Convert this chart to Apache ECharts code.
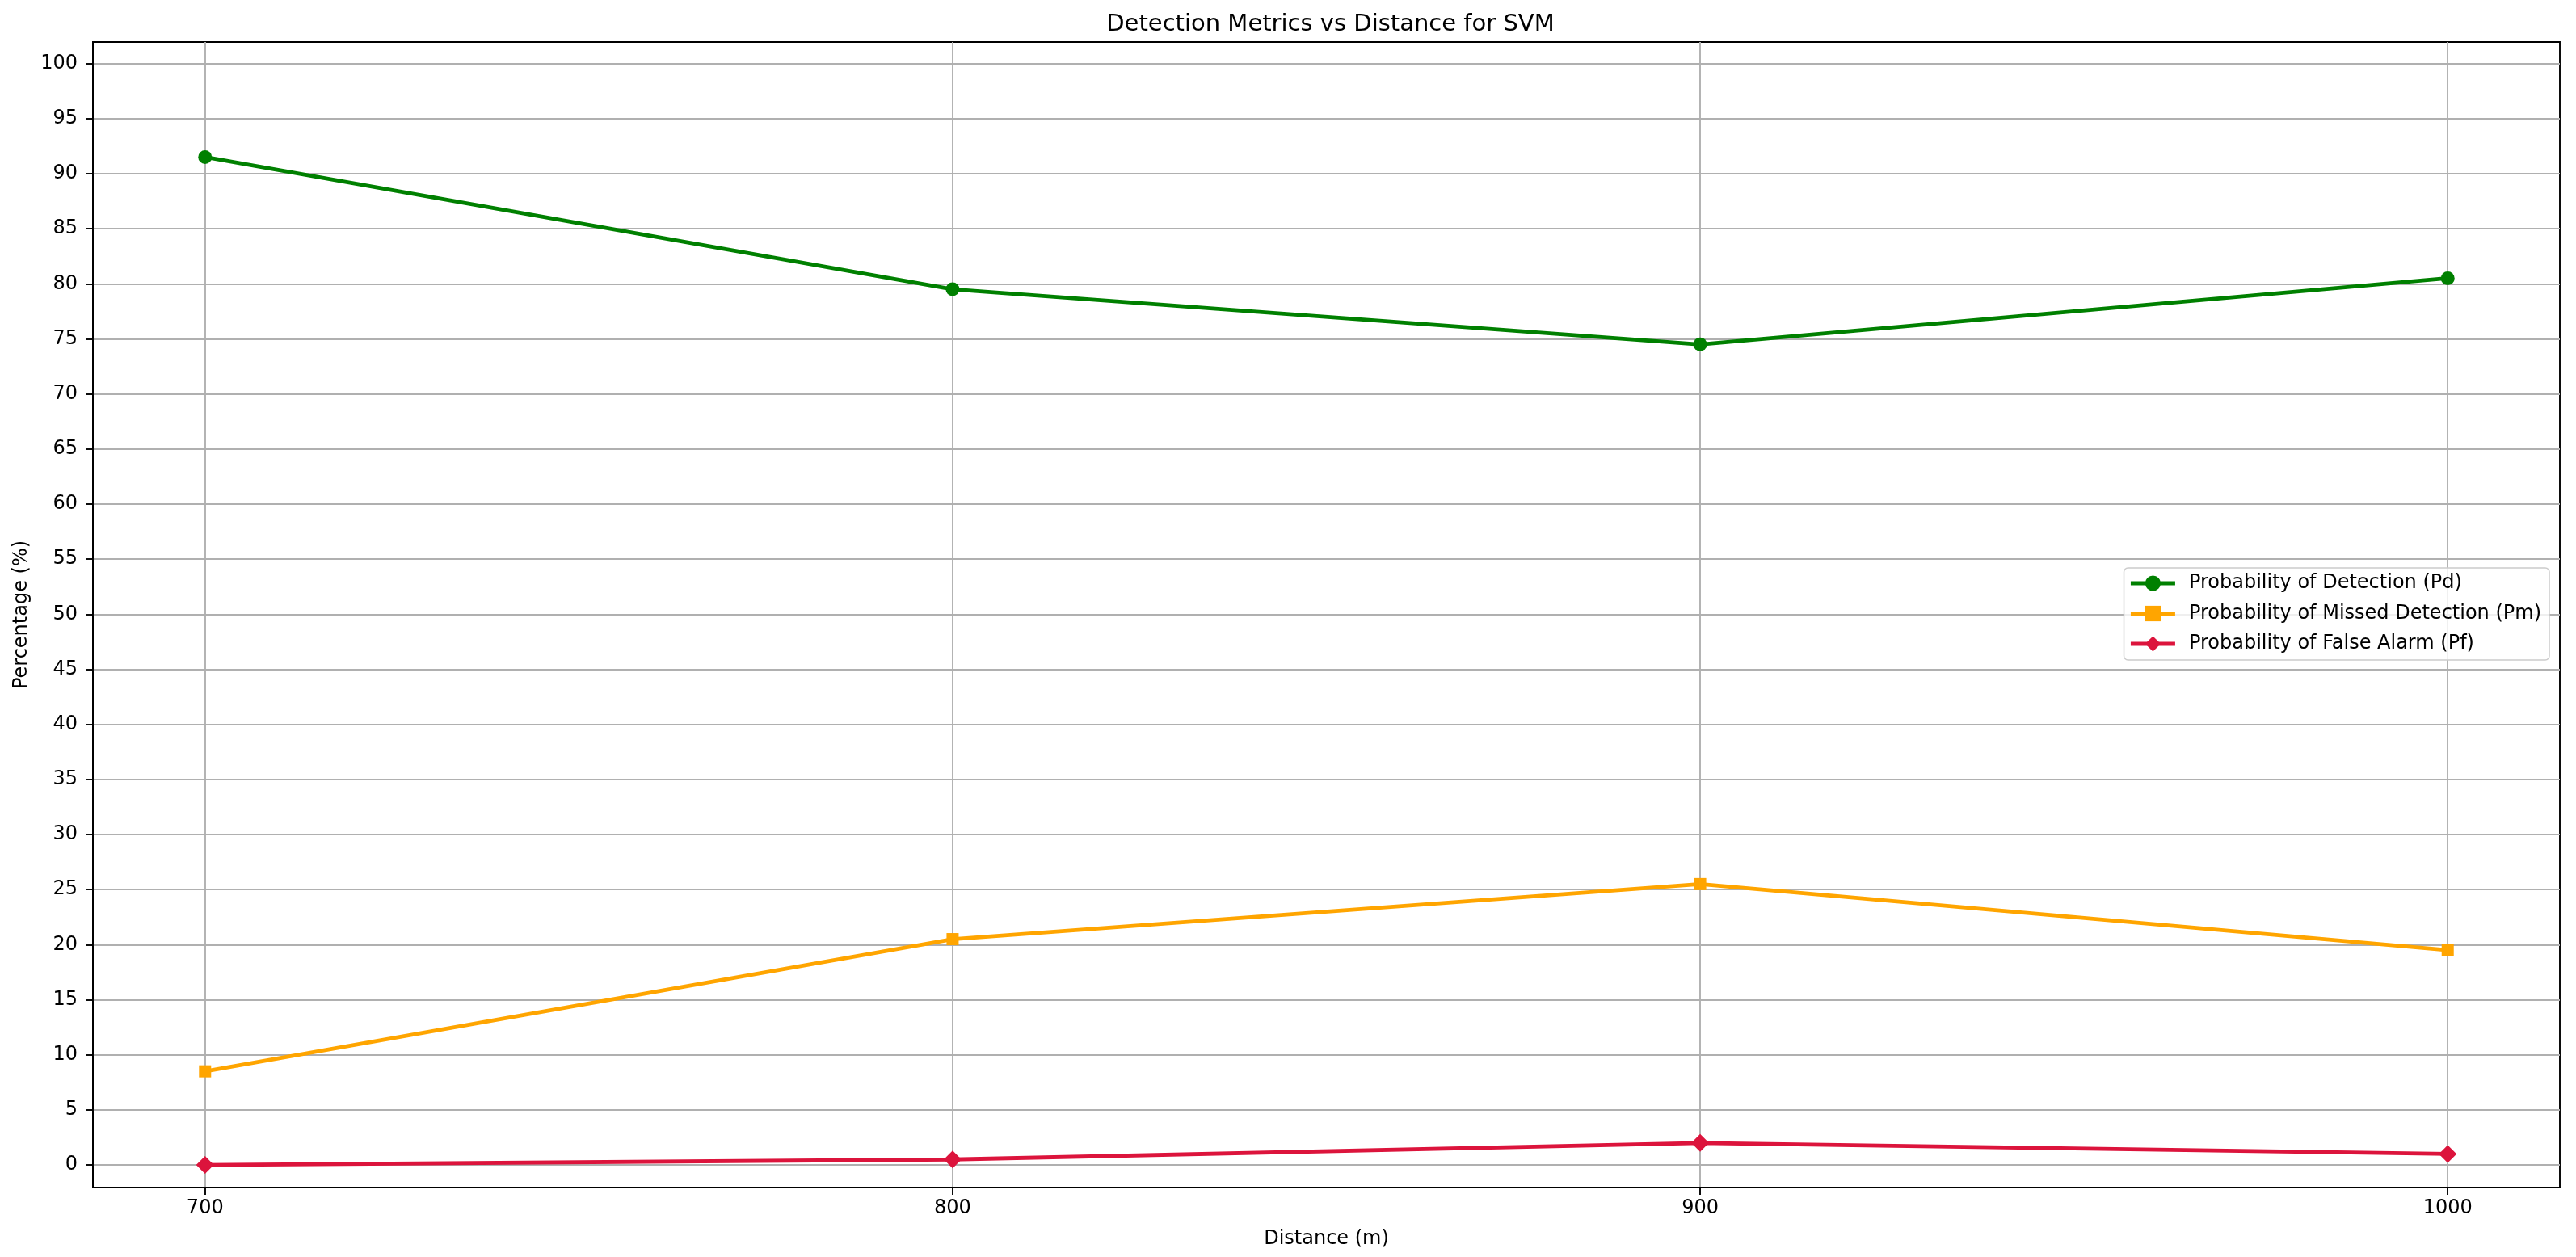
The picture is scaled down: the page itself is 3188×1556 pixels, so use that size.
<!DOCTYPE html>
<html>
<head>
<meta charset="utf-8">
<script src="https://cdn.jsdelivr.net/npm/echarts@6/dist/echarts.min.js"></script>
<style>
html,body{margin:0;padding:0;background:#fff;}
#chart{width:3188px;height:1556px;}
</style>
</head>
<body>
<div id="chart"></div>
<script>
// ---- data ----
const distances = [700, 800, 900, 1000];
const xTicks = [700, 800, 900, 1000];
const yTicks = [0, 5, 10, 15, 20, 25, 30, 35, 40, 45, 50, 55, 60, 65, 70, 75, 80, 85, 90, 95, 100];
const pdValues = [91.5, 79.5, 74.5, 80.5];
const pmValues = [8.5, 20.5, 25.5, 19.5];
const pfValues = [0, 0.5, 2, 1];
const seriesNames = ['Probability of Detection (Pd)', 'Probability of Missed Detection (Pm)', 'Probability of False Alarm (Pf)'];

const FONT = 'DejaVu Sans';
const pair = (xs, ys) => xs.map((x, i) => [x, ys[i]]);

const chart = echarts.init(document.getElementById('chart'), null, {renderer: 'canvas'});

function mkSeries(name, data, color, symbol, size) {
  return {
    name: name,
    type: 'line',
    data: data,
    symbol: symbol,
    symbolSize: size,
    showSymbol: true,
    lineStyle: {color: color, width: 4.8},
    itemStyle: {color: color, borderWidth: 0},
    emphasis: {disabled: true},
    animation: false
  };
}

const gridLeft = 115, gridRight = 20;
const plotCenter = gridLeft + (3188 - gridLeft - gridRight) / 2;

chart.setOption({
  animation: false,
  backgroundColor: '#ffffff',
  textStyle: {fontFamily: FONT, color: '#000'},
  title: {
    text: 'Detection Metrics vs Distance for SVM',
    left: plotCenter,
    textAlign: 'center',
    top: 11,
    textStyle: {fontFamily: FONT, fontSize: 29, fontWeight: 'normal', color: '#000'}
  },
  grid: {
    left: gridLeft, top: 52, right: gridRight, bottom: 86,
    show: true, borderColor: '#000', borderWidth: 1.9, backgroundColor: 'transparent',
    containLabel: false
  },
  legend: {
    orient: 'vertical',
    right: 33,
    top: 703,
    itemWidth: 55,
    itemHeight: 24,
    itemGap: 13.5,
    padding: [7, 10, 8, 6],
    backgroundColor: 'rgba(255,255,255,0.8)',
    borderColor: '#cccccc',
    borderWidth: 1.5,
    borderRadius: 5,
    lineStyle: {width: 4.8},
    textStyle: {fontFamily: FONT, fontSize: 24, color: '#000', padding: [0, 0, 0, 12]},
    data: seriesNames
  },
  xAxis: {
    type: 'value',
    min: 685,
    max: 1015,
    name: 'Distance (m)',
    nameLocation: 'middle',
    nameGap: 52,
    nameTextStyle: {fontFamily: FONT, fontSize: 24, color: '#000'},
    axisLine: {show: true, onZero: false, lineStyle: {color: '#000', width: 1.9}},
    axisTick: {show: true, length: 9, lineStyle: {color: '#000', width: 1.9}, customValues: xTicks},
    axisLabel: {fontFamily: FONT, fontSize: 24, color: '#000', margin: 14, customValues: xTicks,
      formatter: v => String(v)},
    splitLine: {show: true, lineStyle: {color: '#b0b0b0', width: 1.9}}
  },
  yAxis: {
    type: 'value',
    min: -2.05,
    max: 101.95,
    name: 'Percentage (%)',
    nameLocation: 'middle',
    nameGap: 76,
    nameRotate: 90,
    nameTextStyle: {fontFamily: FONT, fontSize: 24, color: '#000'},
    axisLine: {show: true, onZero: false, lineStyle: {color: '#000', width: 1.9}},
    axisTick: {show: true, length: 9, lineStyle: {color: '#000', width: 1.9}, customValues: yTicks},
    axisLabel: {fontFamily: FONT, fontSize: 24, color: '#000', margin: 19, customValues: yTicks,
      formatter: v => String(v)},
    splitLine: {show: true, lineStyle: {color: '#b0b0b0', width: 1.9}}
  },
  series: [
    mkSeries(seriesNames[0], pair(distances, pdValues), '#008000', 'circle', 17),
    mkSeries(seriesNames[1], pair(distances, pmValues), '#FFA500', 'rect', 15),
    mkSeries(seriesNames[2], pair(distances, pfValues), '#DC143C', 'diamond', 22)
  ]
});
</script>
</body>
</html>
